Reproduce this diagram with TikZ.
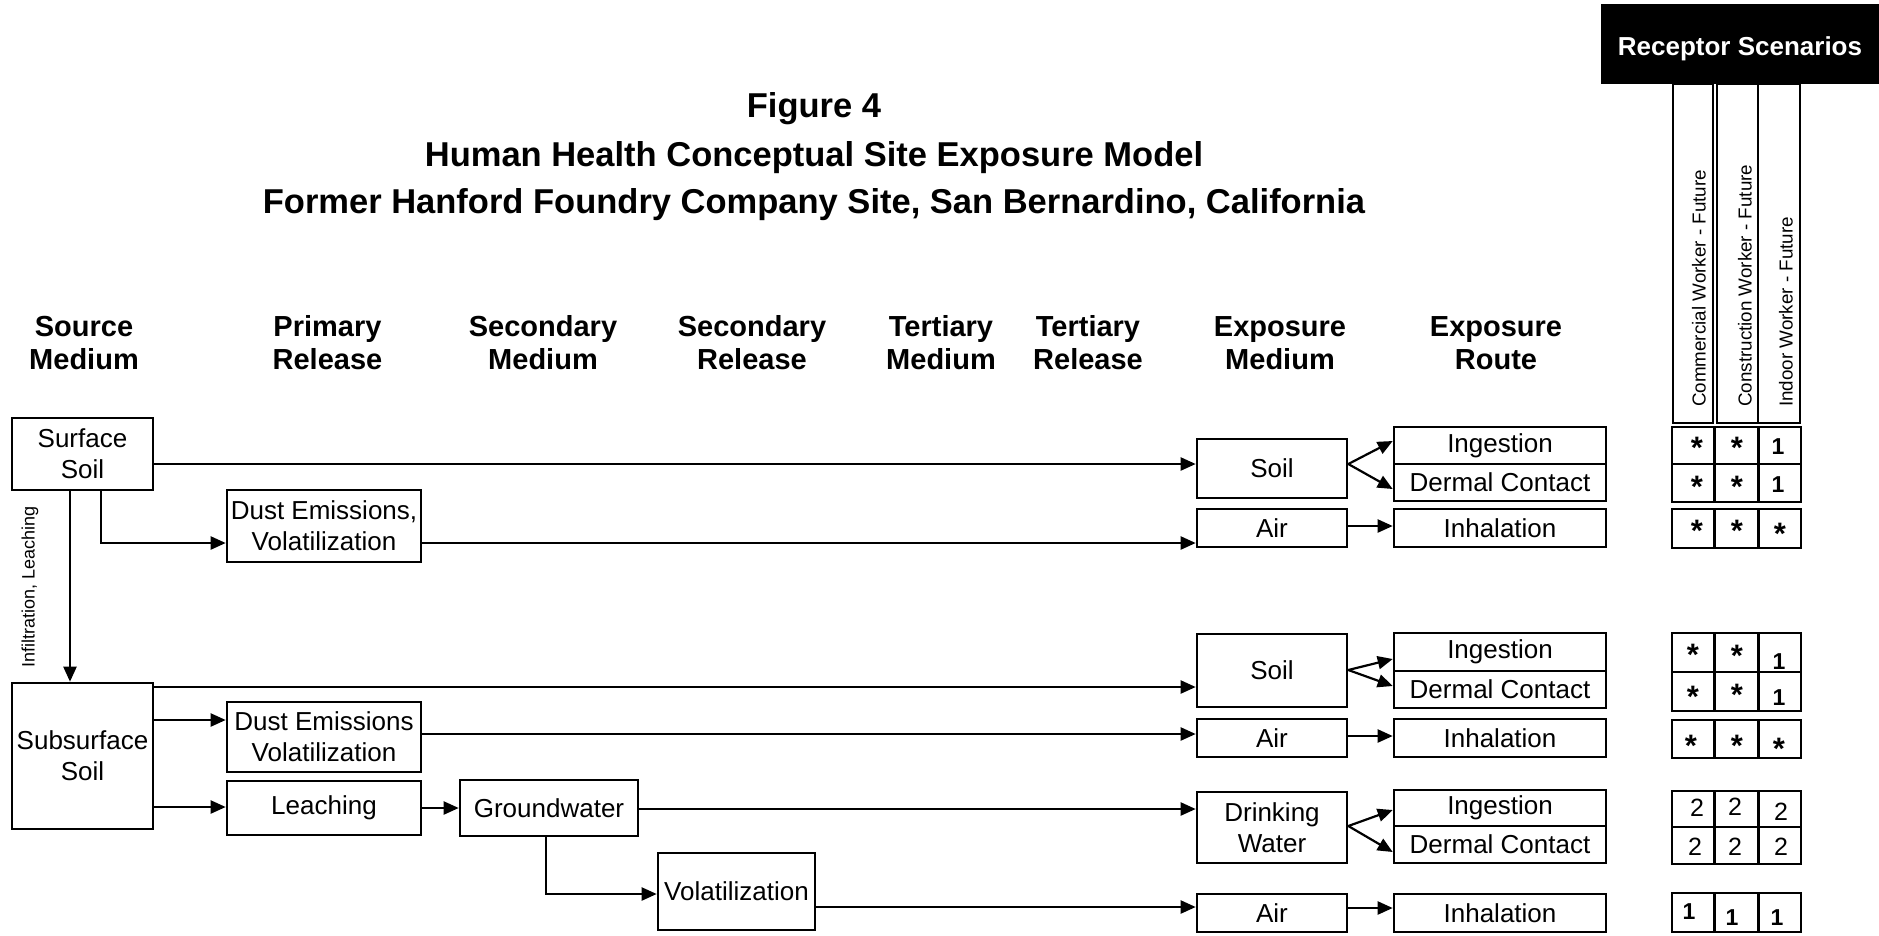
\documentclass[tikz,border=0pt]{standalone}
\usepackage{fontspec}
\setmainfont{Liberation Sans}
\usetikzlibrary{arrows.meta}
\newcommand\RecRow[2]{%
  \draw[cellbox] (1672,#1) rectangle (1714,#2);
  \draw[cellbox] (1715,#1) rectangle (1758,#2);
  \draw[cellbox] (1759,#1) rectangle (1801,#2);}
\newcommand\Cst[2]{\node[cstar] at (#1,{#2+17}) {*};}
\newcommand\Cone[2]{\node[cone] at (#1,{#2+8.2}) {1};}
\newcommand\Ctwo[2]{\node[ctwo] at (#1,{#2+9}) {2};}
\begin{document}
\begin{tikzpicture}[x=1pt,y=-1pt,
  box/.style={draw, line width=2.6pt, inner sep=0pt, align=center, font=\fontsize{26}{31}\selectfont},
  arr/.style={line width=2.2pt, -{Triangle[length=15pt,width=13pt]}},
  hdr/.style={font=\bfseries\fontsize{29}{33}\selectfont, align=center, inner sep=0pt},
  ttl/.style={font=\bfseries\fontsize{34.5}{40}\selectfont, anchor=base, inner sep=0pt},
  coltxt/.style={font=\fontsize{18.8}{20}\selectfont, rotate=90, anchor=west, inner sep=0pt},
  colbox/.style={draw, line width=2.6pt},
  cellbox/.style={draw, line width=2.6pt},
  cstar/.style={font=\bfseries\fontsize{31}{32}\selectfont, anchor=base, inner sep=0pt},
  cone/.style={font=\bfseries\fontsize{23}{24}\selectfont, anchor=base, inner sep=0pt},
  ctwo/.style={font=\fontsize{25}{26}\selectfont, anchor=base, inner sep=0pt},
  medw/.style={minimum width=150pt},
  routew/.style={minimum width=212pt}]
\useasboundingbox (0,0) rectangle (1879,935);

% titles
\node[ttl] (t1) at (814,117) {Figure 4};
\node[ttl] (t2) at (814,166.5) {Human Health Conceptual Site Exposure Model};
\node[ttl] (t3) at (814,213) {Former Hanford Foundry Company Site, San Bernardino, California};

% headers
\node[hdr] (h1) at (84,343) {Source\\Medium};
\node[hdr] (h2) at (327.5,343) {Primary\\Release};
\node[hdr] (h3) at (543,343) {Secondary\\Medium};
\node[hdr] (h4) at (752,343) {Secondary\\Release};
\node[hdr] (h5) at (941,343) {Tertiary\\Medium};
\node[hdr] (h6) at (1088,343) {Tertiary\\Release};
\node[hdr] (h7) at (1280,343) {Exposure\\Medium};
\node[hdr] (h8) at (1496,343) {Exposure\\Route};

% receptor header
\node[fill=black, minimum width=278pt, minimum height=80pt, inner sep=0pt] (rs) at (1740,44) {};
\node[text=white, inner sep=0pt, font=\bfseries\fontsize{26}{30}\selectfont] (rst) at (1740,49) {Receptor Scenarios};
\draw[colbox] (1673,84) rectangle (1713,423);
\draw[colbox] (1717,84) rectangle (1758,423);
\draw[colbox] (1758,84) rectangle (1800,423);
\node[coltxt] (c1) at (1699,407) {Commercial Worker - Future};
\node[coltxt] (c2) at (1745,407) {Construction Worker - Future};
\node[coltxt] (c3) at (1786,407) {Indoor Worker - Future};

% source / release boxes
\node[box, minimum width=141pt, minimum height=72pt] (ss) at (82.5,454) {Surface\\Soil};
\node[box, minimum width=141pt, minimum height=146pt] (sub) at (82.5,756) {Subsurface\\Soil};
\node[box, minimum width=194pt, minimum height=72pt] (dust1) at (324,526) {Dust Emissions,\\Volatilization};
\node[box, minimum width=194pt, minimum height=70pt] (dust2) at (324,737) {Dust Emissions\\Volatilization};
\node[box, minimum width=194pt, minimum height=54pt] (leach) at (324,808) {Leaching};
\node[box, minimum width=178pt, minimum height=56pt] (gw) at (549,808) {Groundwater};
\node[box, minimum width=157pt, minimum height=77pt] (vol) at (736.5,891.5) {Volatilization};

% exposure media
\node[box, medw, minimum height=59pt] (soil1) at (1272,468.5) {Soil};
\node[box, medw, minimum height=38pt] (air1) at (1272,528) {Air};
\node[box, medw, minimum height=73pt] (soil2) at (1272,670.5) {Soil};
\node[box, medw, minimum height=38pt] (air2) at (1272,738) {Air};
\node[box, medw, minimum height=71pt] (dw) at (1272,827.5) {Drinking\\Water};
\node[box, medw, minimum height=38pt] (air3) at (1272,913) {Air};

% exposure routes
\node[box, routew, minimum height=37pt] (ing1) at (1500,445.5) {Ingestion};
\node[box, routew, minimum height=37pt] (derm1) at (1500,482.5) {Dermal Contact};
\node[box, routew, minimum height=38pt] (inh1) at (1500,528) {Inhalation};
\node[box, routew, minimum height=38pt] (ing2) at (1500,652) {Ingestion};
\node[box, routew, minimum height=37pt] (derm2) at (1500,689.5) {Dermal Contact};
\node[box, routew, minimum height=38pt] (inh2) at (1500,738) {Inhalation};
\node[box, routew, minimum height=36pt] (ing3) at (1500,808) {Ingestion};
\node[box, routew, minimum height=37pt] (derm3) at (1500,844.5) {Dermal Contact};
\node[box, routew, minimum height=38pt] (inh3) at (1500,913) {Inhalation};

% infiltration label
\node[font=\fontsize{18}{20}\selectfont, rotate=90] (inf) at (30,587) {Infiltration, Leaching};

% connectors
\draw[arr] (ss.east |- 0,464) -- (soil1.west |- 0,464);
\draw[arr] (ss.south -| 101,0) |- (dust1.west |- 0,543);
\draw[arr] (dust1.east |- 0,543) -- (air1.west |- 0,543);
\draw[arr] (ss.south -| 70,0) -- (sub.north -| 70,0);
\draw[arr] (sub.east |- 0,687) -- (soil2.west |- 0,687);
\draw[arr] (sub.east |- 0,720) -- (dust2.west |- 0,720);
\draw[arr] (dust2.east |- 0,734) -- (air2.west |- 0,734);
\draw[arr] (sub.east |- 0,807) -- (leach.west |- 0,807);
\draw[arr] (leach.east |- 0,808) -- (gw.west |- 0,808);
\draw[arr] (gw.east |- 0,809) -- (dw.west |- 0,809);
\draw[arr] (gw.south -| 546,0) |- (vol.west |- 0,894);
\draw[arr] (vol.east |- 0,907) -- (air3.west |- 0,907);

\draw[arr] (soil1.east |- 0,464) -- (ing1.west |- 0,441);
\draw[arr] (soil1.east |- 0,464) -- (derm1.west |- 0,489);
\draw[arr] (air1.east |- 0,526) -- (inh1.west |- 0,526);
\draw[arr] (soil2.east |- 0,670) -- (ing2.west |- 0,659);
\draw[arr] (soil2.east |- 0,670) -- (derm2.west |- 0,686);
\draw[arr] (air2.east |- 0,736) -- (inh2.west |- 0,736);
\draw[arr] (dw.east |- 0,826) -- (ing3.west |- 0,810);
\draw[arr] (dw.east |- 0,826) -- (derm3.west |- 0,852);
\draw[arr] (air3.east |- 0,908) -- (inh3.west |- 0,908);

% receptor cells
\RecRow{427}{464}
\RecRow{464}{502}
\RecRow{509}{548}
\RecRow{633}{672}
\RecRow{672}{711}
\RecRow{720}{758}
\RecRow{791}{827}
\RecRow{827}{864}
\RecRow{893}{932}

\Cst{1697}{441}\Cst{1737}{441}\Cone{1778}{446}
\Cst{1697}{480}\Cst{1737}{480}\Cone{1778}{484}
\Cst{1697}{524}\Cst{1737}{524}\Cst{1780}{527}
\Cst{1693}{648}\Cst{1737}{649}\Cone{1779}{661}
\Cst{1693}{690}\Cst{1737}{688}\Cone{1779}{697}
\Cst{1691}{739}\Cst{1737}{739}\Cst{1779}{742}
\Ctwo{1697}{807}\Ctwo{1735}{806}\Ctwo{1781}{811}
\Ctwo{1695}{846}\Ctwo{1735}{846}\Ctwo{1781}{846}
\Cone{1689}{911}\Cone{1732}{917}\Cone{1777}{917}
\end{tikzpicture}
\end{document}
